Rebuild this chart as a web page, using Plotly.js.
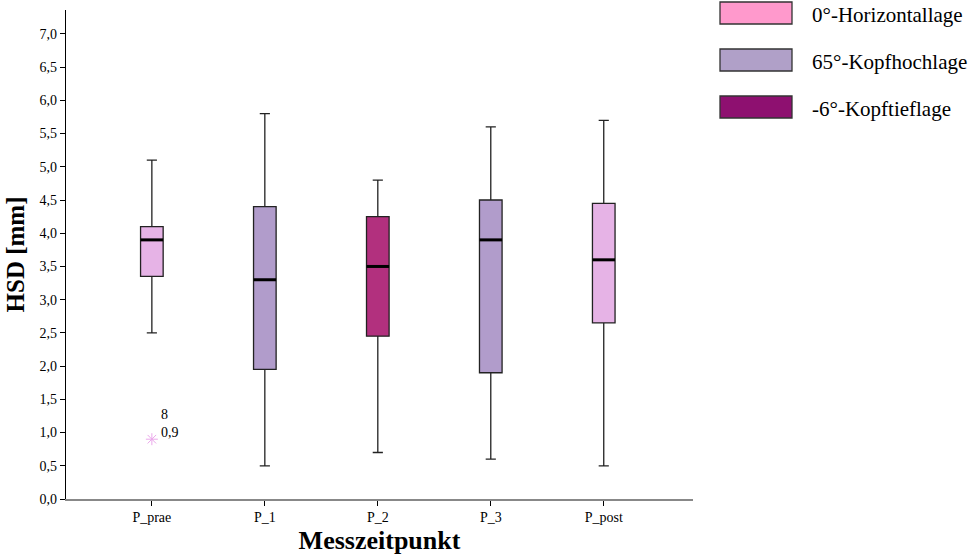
<!DOCTYPE html>
<html><head><meta charset="utf-8">
<script src="https://cdn.plot.ly/plotly-3.0.1.min.js"></script>
<style>body{margin:0;background:#fff}#chart{width:969px;height:559px}</style>
</head><body><div id="chart"></div>
<script>
const categories = ["P_prae", "P_1", "P_2", "P_3", "P_post"];
const lowerWhisker = [2.5, 0.5, 0.7, 0.6, 0.5];
const q1Values = [3.35, 1.95, 2.45, 1.9, 2.65];
const medianValues = [3.9, 3.3, 3.5, 3.9, 3.6];
const q3Values = [4.1, 4.4, 4.25, 4.5, 4.45];
const upperWhisker = [5.1, 5.8, 4.8, 5.6, 5.7];
const boxColors = ["#E6B3E6", "#B19CCB", "#B2307E", "#B19CCB", "#E6B3E6"];
const outlierCategory = ["P_prae"];
const outlierValue = [0.9];
const outlierCase = ["8"];
const legendLabels = ["0°-Horizontallage", "65°-Kopfhochlage", "-6°-Kopftieflage"];
const legendColors = ["#FF99CC", "#B0A0C8", "#8E1070"];

const font = "'Liberation Serif', 'Times New Roman', serif";
const traces = categories.map((c, i) => ({
  type: "box", x: [c], q1: [q1Values[i]], median: [medianValues[i]], q3: [q3Values[i]],
  lowerfence: [lowerWhisker[i]], upperfence: [upperWhisker[i]],
  fillcolor: boxColors[i], line: {color: "#222", width: 1.3},
  width: 0.2, whiskerwidth: 0.45, boxpoints: false, showlegend: false, hoverinfo: "skip"
}));
traces.push({
  type: "scatter", mode: "markers", x: outlierCategory, y: outlierValue,
  marker: {symbol: "asterisk-open", size: 10, color: "#EBA8EB", line: {color: "#EBA8EB", width: 1}},
  showlegend: false, hoverinfo: "skip"
});

const shapes = medianValues.map((m, i) => ({
  type: "line", xref: "x", yref: "y", x0: i - 0.1, x1: i + 0.1, y0: m, y1: m,
  line: {color: "#000", width: 3}
}));
const annotations = [];
outlierValue.forEach((v, k) => {
  const idx = categories.indexOf(outlierCategory[k]);
  annotations.push({xref: "x", yref: "y", x: idx, y: v, text: outlierCase[k] + "<br>" + String(v).replace(".", ","),
    showarrow: false, xanchor: "left", yanchor: "bottom", xshift: 7, yshift: -3, align: "left",
    font: {family: font, size: 14, color: "#000000"}});
});
legendLabels.forEach((lab, i) => {
  const top = 2 + i * 47;
  shapes.push({type: "rect", xref: "paper", yref: "paper",
    x0: (720 - 66) / 627, x1: (792 - 66) / 627,
    y0: (499 - (top + 22)) / 489, y1: (499 - top) / 489,
    fillcolor: legendColors[i], line: {color: "#333", width: 1.3}});
  annotations.push({xref: "paper", yref: "paper", x: (810 - 66) / 627, y: (499 - (top + 13)) / 489,
    text: lab, showarrow: false, xanchor: "left", yanchor: "middle",
    font: {family: font, size: 21, color: "#000"}});
});

const layout = {
  width: 969, height: 559,
  margin: {l: 66, r: 276, t: 10, b: 60},
  paper_bgcolor: "#fff", plot_bgcolor: "#fff",
  separators: ",.",
  showlegend: false,
  xaxis: {type: "category", range: [-0.76, 4.79], showgrid: false, zeroline: false,
    showline: true, linecolor: "#888", linewidth: 1.5, ticks: "outside", ticklen: 5, tickcolor: "#000",
    tickfont: {family: font, size: 14, color: "#000"},
    title: {text: "<b>Messzeitpunkt</b>", font: {family: font, size: 26, color: "#000"}, standoff: 6}},
  yaxis: {range: [0, 7.36], tickvals: [0,0.5,1,1.5,2,2.5,3,3.5,4,4.5,5,5.5,6,6.5,7], tickformat: ".1f",
    showgrid: false, zeroline: false, showline: true, linecolor: "#000", linewidth: 1.3,
    ticks: "outside", ticklen: 5, tickcolor: "#000",
    tickfont: {family: font, size: 14, color: "#000"},
    title: {text: "<b>HSD [mm]</b>", font: {family: font, size: 25, color: "#000"}, standoff: 7}},
  shapes: shapes, annotations: annotations
};
Plotly.newPlot("chart", traces, layout, {displayModeBar: false, staticPlot: true});
</script></body></html>
